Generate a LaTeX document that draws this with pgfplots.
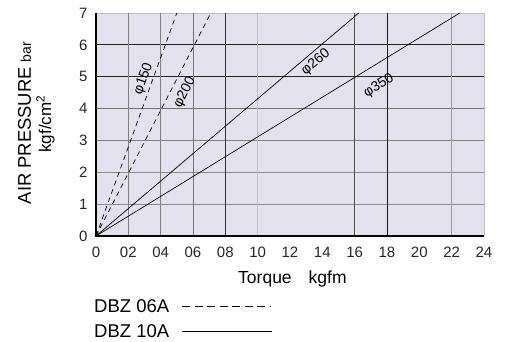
\documentclass[border=0pt]{standalone}
\usepackage{fontspec}
\setmainfont{Liberation Sans}
\usepackage{pgfplots}
\pgfplotsset{compat=1.18}
\definecolor{bgc}{HTML}{E3E1EE}
\begin{document}
\begin{tikzpicture}[x=1pt,y=1pt]
\useasboundingbox (0,0) rectangle (507,342);
\fill[white] (0,0) rectangle (507,342);
\begin{axis}[
  at={(96pt,106pt)}, anchor=south west,
  scale only axis, width=388pt, height=223pt,
  xmin=0, xmax=24, ymin=0, ymax=7,
  xtick={0,2,...,24},
  xticklabels={0,02,04,06,08,10,12,14,16,18,20,22,24},
  ytick={0,1,...,7},
  /pgf/number format/assume math mode=true,
  tick label style={font=\fontsize{15}{17}\selectfont, text=black!85},
  xticklabel style={anchor=base, text height=11pt, text depth=0pt, yshift=-22pt},
  yticklabel style={xshift=-5pt},
  major tick length=0pt,
  axis line style={draw=none},
  axis background/.style={fill=bgc},
  clip=false,
]
% grid
\draw[black!45, line width=0.8pt] (axis cs:0,1) -- (axis cs:24,1);
\draw[black!45, line width=0.8pt] (axis cs:0,2) -- (axis cs:24,2);
\draw[black!50, line width=0.8pt] (axis cs:0,3) -- (axis cs:24,3);
\draw[black!55, line width=0.8pt] (axis cs:0,4) -- (axis cs:24,4);
\draw[black!85, line width=0.9pt] (axis cs:0,5) -- (axis cs:24,5);
\draw[black!85, line width=0.9pt] (axis cs:0,6) -- (axis cs:24,6);
\draw[black!25, line width=0.8pt] (axis cs:0,7) -- (axis cs:24,7);
\draw[black!50, line width=0.8pt] (axis cs:2,0) -- (axis cs:2,7);
\draw[black!50, line width=0.8pt] (axis cs:4,0) -- (axis cs:4,7);
\draw[black!55, line width=0.8pt] (axis cs:6,0) -- (axis cs:6,7);
\draw[black!80, line width=0.9pt] (axis cs:8,0) -- (axis cs:8,7);
\draw[black!25, line width=0.8pt] (axis cs:10,0) -- (axis cs:10,7);
\draw[black!70, line width=0.9pt] (axis cs:16,0) -- (axis cs:16,7);
\draw[black!90, line width=0.9pt] (axis cs:18,0) -- (axis cs:18,7);
\draw[black!40, line width=0.8pt] (axis cs:22,0) -- (axis cs:22,7);
\draw[black!25, line width=0.8pt] (axis cs:24,0) -- (axis cs:24,7);
\draw[black, line width=1.1pt] (axis cs:0,7) -- (axis cs:0,0) -- (axis cs:24,0);
% series
\addplot[black, line width=0.7pt, dash pattern=on 5pt off 4pt] coordinates {(0,0) (5.0,7)};
\addplot[black, line width=0.7pt, dash pattern=on 5pt off 4pt] coordinates {(0,0) (7.1,7)};
\addplot[black, line width=0.7pt] coordinates {(0,0) (16.25,7)};
\addplot[black, line width=0.7pt] coordinates {(0,0) (22.5,7)};
% line labels
\node[rotate=70, font=\fontsize{14}{16}\selectfont, inner sep=0pt] at (axis cs:2.95,4.93) {φ150};
\node[rotate=63, font=\fontsize{14}{16}\selectfont, inner sep=0pt] at (axis cs:5.5,4.5) {φ200};
\node[rotate=40, font=\fontsize{14}{16}\selectfont, inner sep=0pt] at (axis cs:13.6,5.45) {φ260};
\node[rotate=31, font=\fontsize{14}{16}\selectfont, inner sep=0pt] at (axis cs:17.5,4.7) {φ350};
\end{axis}
% axis titles
\node[rotate=90, anchor=base, inner sep=0pt] at (31,342-123) {\fontsize{18.4}{20}\selectfont AIR PRESSURE \fontsize{14}{16}\selectfont bar};
\node[rotate=90, anchor=base, inner sep=0pt] at (51,342-124) {\fontsize{17}{19}\selectfont kgf/cm\textsuperscript{2}};
\node[anchor=base west, inner sep=0pt] at (238,342-284) {\fontsize{17.5}{19}\selectfont Torque\hspace{17pt}kgfm};
% legend
\node[anchor=base west, inner sep=0pt] at (94,342-313) {\fontsize{18.5}{20}\selectfont DBZ 06A};
\draw[black, line width=0.9pt, dash pattern=on 8pt off 4.5pt] (182,342-306) -- (270,342-306);
\node[anchor=base west, inner sep=0pt] at (94,342-338) {\fontsize{18.5}{20}\selectfont DBZ 10A};
\draw[black, line width=0.9pt] (182,342-331) -- (272,342-331);
\end{tikzpicture}
\end{document}
